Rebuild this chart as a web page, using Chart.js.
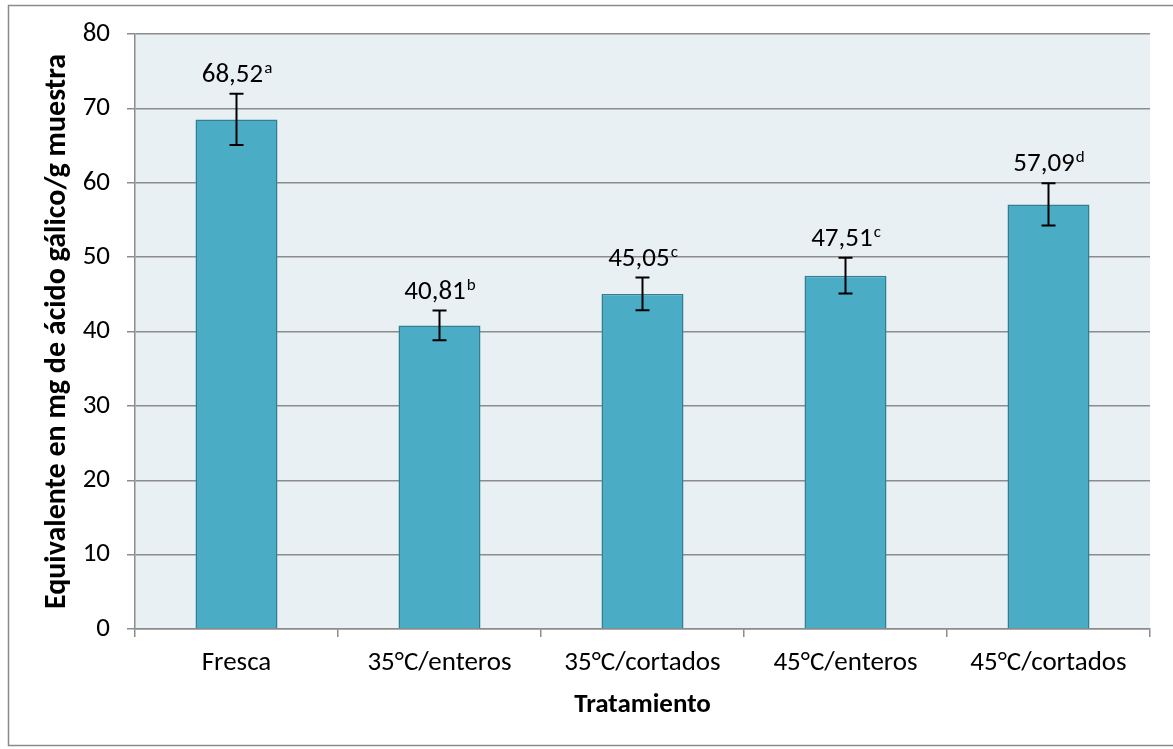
<!DOCTYPE html>
<html>
<head>
<meta charset="utf-8">
<script src="https://cdn.jsdelivr.net/npm/chart.js@4"></script>
<style>
  html, body { margin: 0; padding: 0; background: #fff; }
  #wrap { width: 1173px; height: 749px; position: relative; }
</style>
</head>
<body>
<div id="wrap"><canvas id="fenolesChart" width="1173" height="749"></canvas></div>
<script>
// Data
const categories = ['Fresca', '35°C/enteros', '35°C/cortados', '45°C/enteros', '45°C/cortados'];
const means = [68.52, 40.81, 45.05, 47.51, 57.09];
const errors = [3.43, 2.0, 2.2, 2.4, 2.85];
const letters = ['a', 'b', 'c', 'c', 'd'];
const yTicks = [0, 10, 20, 30, 40, 50, 60, 70, 80];

const font = 'Carlito, "Lato", "Open Sans", sans-serif';
const gridGray = '#8c8c8c';
const labelSize = 27;

// Plot area background + outer frame
const backgroundPlugin = {
    id: 'plotBackground',
    beforeDraw(chart) {
        const { ctx, chartArea: a } = chart;
        ctx.save();
        ctx.fillStyle = '#ffffff';
        ctx.fillRect(0, 0, chart.width, chart.height);
        ctx.strokeStyle = '#8a8a8a';
        ctx.lineWidth = 1.5;
        ctx.strokeRect(8.5, 5.5, chart.width + 20, chart.height - 9);
        ctx.fillStyle = '#e9f0f4';
        ctx.fillRect(a.left, a.top, a.right - a.left, a.bottom - a.top);
        ctx.restore();
    }
};

// Error bars and value labels with superscript letters
const errorBarPlugin = {
    id: 'errorBars',
    afterDatasetsDraw(chart) {
        const { ctx, scales } = chart;
        const meta = chart.getDatasetMeta(0);
        ctx.save();
        meta.data.forEach((bar, i) => {
            const x = bar.x;
            const yTop = scales.y.getPixelForValue(means[i] + errors[i]);
            const yBot = scales.y.getPixelForValue(means[i] - errors[i]);
            ctx.strokeStyle = '#000';
            ctx.lineWidth = 2;
            ctx.beginPath();
            ctx.moveTo(x, yTop); ctx.lineTo(x, yBot);
            ctx.moveTo(x - 7, yTop); ctx.lineTo(x + 7, yTop);
            ctx.moveTo(x - 7, yBot); ctx.lineTo(x + 7, yBot);
            ctx.stroke();

            const main = means[i].toFixed(2).replace('.', ',');
            ctx.font = labelSize + 'px ' + font;
            const w1 = ctx.measureText(main).width;
            ctx.font = '17px ' + font;
            const w2 = ctx.measureText(letters[i]).width;
            const start = x - (w1 + w2) / 2;
            const base = yTop - 12;
            ctx.fillStyle = '#000';
            ctx.textAlign = 'left';
            ctx.textBaseline = 'alphabetic';
            ctx.font = labelSize + 'px ' + font;
            ctx.fillText(main, start, base);
            ctx.font = '17px ' + font;
            ctx.fillText(letters[i], start + w1 + 1, base - 9);
        });
        ctx.restore();
    }
};

new Chart(document.getElementById('fenolesChart'), {
    type: 'bar',
    data: {
        labels: categories,
        datasets: [{
            data: means,
            backgroundColor: '#4bacc6',
            borderColor: '#357d91',
            borderWidth: 1.5,
            categoryPercentage: 1,
            barPercentage: 0.404
        }]
    },
    options: {
        responsive: false,
        animation: false,
        events: [],
        layout: { padding: { left: 35, top: 34, right: 23, bottom: 24 } },
        plugins: {
            legend: { display: false },
            tooltip: { enabled: false }
        },
        scales: {
            x: {
                afterFit(scale) { scale.height = 96; },
                grid: {
                    offset: true,
                    drawOnChartArea: false,
                    color: gridGray,
                    lineWidth: 1.5,
                    tickLength: 8
                },
                border: { color: gridGray, width: 1.5 },
                ticks: { color: '#000', font: { family: font, size: labelSize }, padding: 10 },
                title: {
                    display: true,
                    text: 'Tratamiento',
                    color: '#000',
                    font: { family: font, size: 27, weight: 'bold' },
                    padding: { top: 4, bottom: 4 }
                }
            },
            y: {
                min: 0,
                max: 80,
                afterFit(scale) { scale.width = 100; },
                afterBuildTicks(scale) { scale.ticks = yTicks.map(v => ({ value: v })); },
                grid: {
                    color: gridGray,
                    lineWidth: 1.5,
                    tickLength: 8
                },
                border: { color: gridGray, width: 1.5 },
                ticks: { color: '#000', font: { family: font, size: labelSize }, padding: 17 },
                title: {
                    display: true,
                    text: 'Equivalente en mg de ácido gálico/g muestra',
                    color: '#000',
                    font: { family: font, size: 30, weight: 'bold' },
                    padding: { top: 4, bottom: 4 }
                }
            }
        }
    },
    plugins: [backgroundPlugin, errorBarPlugin]
});
</script>
</body>
</html>
